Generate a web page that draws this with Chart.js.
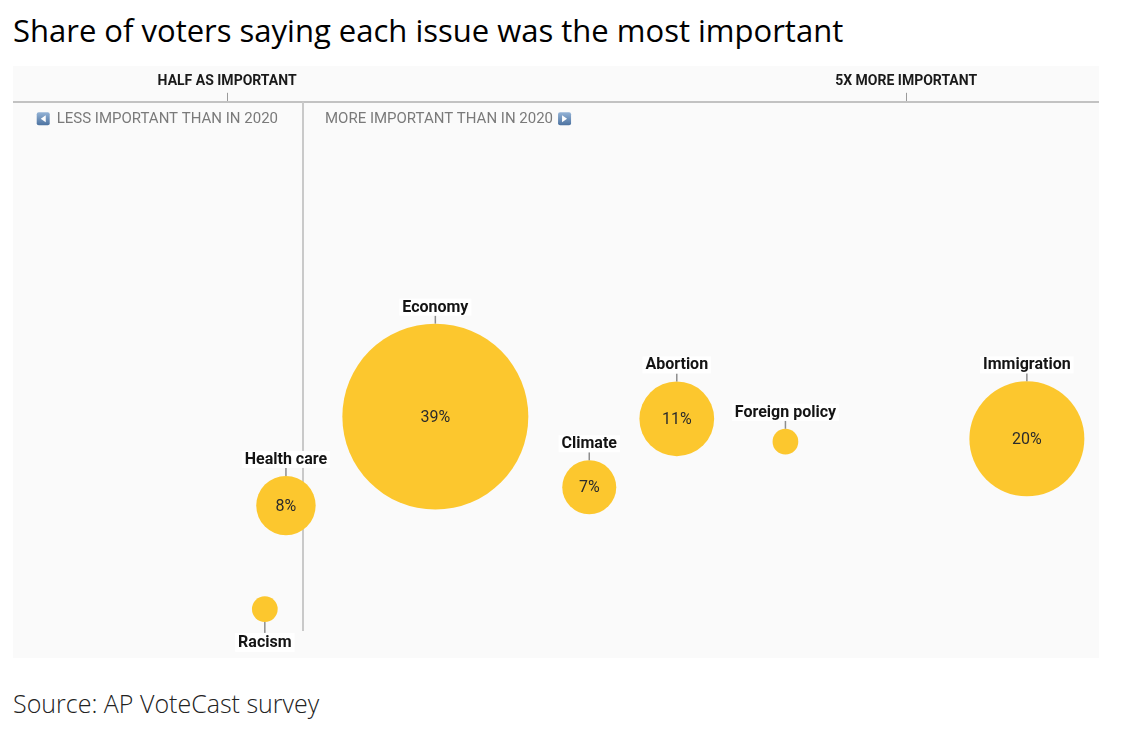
<!DOCTYPE html>
<html><head><meta charset="utf-8">
<script src="https://cdn.jsdelivr.net/npm/chart.js@4.4.1/dist/chart.umd.min.js"></script>
<style>
html,body{margin:0;padding:0;background:#fff;}
body{width:1137px;height:732px;position:relative;overflow:hidden;}
#title{position:absolute;left:13px;top:12px;font-family:"Open Sans";font-size:31px;line-height:36px;color:#000;white-space:nowrap;}
#panel{position:absolute;left:13px;top:66px;width:1086px;height:592px;background:#fafafa;}
#panel canvas{display:block;}
#source{position:absolute;left:13px;top:688px;font-family:"Open Sans";font-weight:300;font-size:25px;line-height:30px;color:#222;white-space:nowrap;}
</style></head><body>
<div id="title">Share of voters saying each issue was the most important</div>
<div id="panel"><canvas id="c"></canvas></div>
<div id="source">Source: AP VoteCast survey</div>
<script>
// ---- data ----
const issues      = ['Racism', 'Health care', 'Economy', 'Climate', 'Abortion', 'Foreign policy', 'Immigration'];
const shares      = [2.5, 8, 39, 7, 11, 2.5, 20];          // % of voters (unlabelled ones estimated from size)
const pctLabels   = ['', '8%', '39%', '7%', '11%', '', '20%'];
const changeRatio = [0.75, 0.89, 1.88, 2.9, 3.48, 4.2, 5.8]; // importance vs 2020 (x)
const rowPos      = [8.8, 27.4, 43.4, 30.7, 43.0, 38.9, 39.4]; // vertical spread (arbitrary units)
const tickValues  = [0.5, 5];
const tickLabels  = ['HALF AS IMPORTANT', '5X MORE IMPORTANT'];
const baselineRatio = 1;
const sideLabels  = ['LESS IMPORTANT THAN IN 2020', 'MORE IMPORTANT THAN IN 2020'];
const labelsBelow = ['Racism'];

// ---- styles ----
const BUBBLE = '#fcc72e';
const radiusFor = s => 6.65 * Math.pow(s, 0.72);

function drawIcon(ctx, x, y, dir){
  const s = 13;
  const g = ctx.createLinearGradient(x, y, x, y + s);
  g.addColorStop(0, '#94b3d6'); g.addColorStop(1, '#4c72a0');
  ctx.fillStyle = g;
  ctx.beginPath();
  if (ctx.roundRect) ctx.roundRect(x, y, s, s, 2); else ctx.rect(x, y, s, s);
  ctx.fill();
  ctx.fillStyle = '#fff';
  ctx.beginPath();
  if (dir === 'left') { ctx.moveTo(x + 9, y + 3); ctx.lineTo(x + 9, y + 10); ctx.lineTo(x + 4, y + 6.5); }
  else { ctx.moveTo(x + 4, y + 3); ctx.lineTo(x + 4, y + 10); ctx.lineTo(x + 9, y + 6.5); }
  ctx.closePath(); ctx.fill();
}

const annot = {
  id: 'annot',
  beforeDatasetsDraw(chart){
    const {ctx, chartArea, scales:{x}} = chart;
    const lx = Math.round(x.getPixelForValue(baselineRatio));
    ctx.save();
    ctx.strokeStyle = '#c9c9c9'; ctx.lineWidth = 2;
    ctx.beginPath(); ctx.moveTo(lx, chartArea.top); ctx.lineTo(lx, chartArea.bottom - 27); ctx.stroke();
    ctx.font = '15px Roboto'; ctx.fillStyle = '#7a7a7a'; ctx.textBaseline = 'middle';
    const cy = chartArea.top + 17;
    ctx.textAlign = 'right';
    ctx.fillText(sideLabels[0], lx - 25, cy);
    const w0 = ctx.measureText(sideLabels[0]).width;
    drawIcon(ctx, lx - 25 - w0 - 20, cy - 6.5, 'left');
    ctx.fillStyle = '#7a7a7a';
    ctx.textAlign = 'left';
    ctx.fillText(sideLabels[1], lx + 22, cy);
    const w1 = ctx.measureText(sideLabels[1]).width;
    drawIcon(ctx, lx + 22 + w1 + 5, cy - 6.5, 'right');
    ctx.restore();
  },
  afterDatasetsDraw(chart){
    const {ctx} = chart;
    const meta = chart.getDatasetMeta(0);
    ctx.save();
    meta.data.forEach((el, i) => {
      const r = el.options.radius;
      const cx = el.x, cy = el.y;
      if (pctLabels[i]) {
        ctx.font = '16px Roboto'; ctx.fillStyle = '#2b2b2b';
        ctx.textAlign = 'center'; ctx.textBaseline = 'middle';
        ctx.fillText(pctLabels[i], cx, cy + 1);
      }
      const below = labelsBelow.includes(issues[i]);
      ctx.font = 'bold 16px Roboto';
      const tw = ctx.measureText(issues[i]).width;
      let boxTop, lineFrom, lineTo, textY;
      if (below) {
        lineFrom = cy + r; lineTo = cy + r + 11; boxTop = lineTo; textY = boxTop + 9.5;
      } else {
        lineFrom = cy - r; lineTo = cy - r - 8; boxTop = lineTo - 17; textY = boxTop + 8.5;
      }
      ctx.strokeStyle = '#8d8d8d'; ctx.lineWidth = 1.5;
      ctx.beginPath(); ctx.moveTo(cx, lineFrom); ctx.lineTo(cx, lineTo); ctx.stroke();
      ctx.fillStyle = '#ffffff';
      ctx.fillRect(cx - tw / 2 - 3, boxTop, tw + 6, below ? 19 : 17);
      ctx.fillStyle = '#141414'; ctx.textAlign = 'center'; ctx.textBaseline = 'middle';
      ctx.fillText(issues[i], cx, textY + 0.5);
    });
    ctx.restore();
  }
};

new Chart(document.getElementById('c'), {
  type: 'bubble',
  data: {
    datasets: [{
      data: issues.map((n, i) => ({ x: changeRatio[i], y: rowPos[i], r: radiusFor(shares[i]) })),
      backgroundColor: BUBBLE,
      borderWidth: 0,
      hoverRadius: 0,
      clip: false
    }]
  },
  options: {
    responsive: true,
    maintainAspectRatio: false,
    animation: false,
    events: [],
    layout: { autoPadding: false, padding: { top: 4, left: 0, right: 0, bottom: 0 } },
    plugins: { legend: { display: false }, tooltip: { enabled: false } },
    scales: {
      x: {
        type: 'linear', position: 'top', min: -0.9188, max: 6.278,
        afterBuildTicks: s => { s.ticks = tickValues.map(v => ({ value: v })); },
        ticks: {
          callback: (v, idx) => tickLabels[idx],
          font: { family: 'Roboto', size: 14, weight: 'bold' },
          color: '#1a1a1a', padding: 3, maxRotation: 0, autoSkip: false
        },
        grid: { drawOnChartArea: false, drawTicks: true, tickLength: 9, color: '#9a9a9a', lineWidth: 1 },
        border: { display: true, color: '#c2c2c2', width: 2 }
      },
      y: { display: false, min: 0, max: 100 }
    }
  },
  plugins: [annot]
});
</script>
</body></html>
